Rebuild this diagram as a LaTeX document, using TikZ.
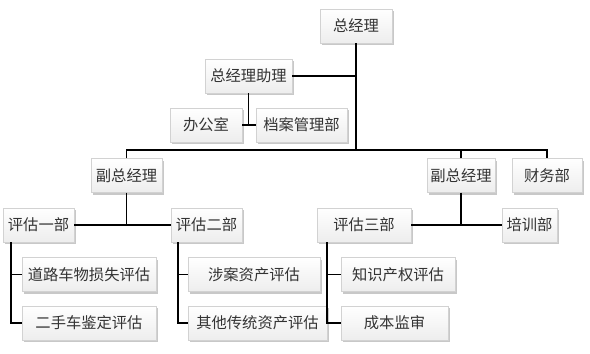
\documentclass[tikz,border=0pt]{standalone}
\usepackage{fontspec}
\setmainfont{Noto Sans CJK SC}
\usetikzlibrary{shadows}
\begin{document}
\begin{tikzpicture}[x=1pt,y=-1pt,
  box/.style={rectangle, draw=gray!35, line width=0.4pt, top color=white, bottom color=gray!14,
    drop shadow={shadow xshift=1.6pt, shadow yshift=-2pt, opacity=0.5, fill=gray!85},
    inner sep=0pt, minimum height=34pt, font=\fontsize{15.3}{18}\selectfont, text=black!80},
  conn/.style={line width=1.2pt, black}]
\useasboundingbox[fill=white] (0,0) rectangle (590,354);
% nodes
\node[box, minimum width=72pt] (gm) at (356,26) {总经理};
\node[box, minimum width=87pt] (asst) at (248.5,76) {总经理助理};
\node[box, minimum width=72pt] (office) at (206,125) {办公室};
\node[box, minimum width=91pt] (archive) at (301.5,125) {档案管理部};
\node[box, minimum width=71pt] (vp1) at (126.5,175.5) {副总经理};
\node[box, minimum width=68pt] (vp2) at (461,175.5) {副总经理};
\node[box, minimum width=70pt] (fin) at (547,175.5) {财务部};
\node[box, minimum width=71pt] (d1) at (38.5,225) {评估一部};
\node[box, minimum width=71pt] (d2) at (206.5,225) {评估二部};
\node[box, minimum width=94pt] (d3) at (364,225) {评估三部};
\node[box, minimum width=55pt] (train) at (529.5,225) {培训部};
\node[box, minimum width=134pt] (road) at (89,274.5) {道路车物损失评估};
\node[box, minimum width=134pt] (used) at (89,323) {二手车鉴定评估};
\node[box, minimum width=132pt] (case) at (254,274.5) {涉案资产评估};
\node[box, minimum width=139pt] (other) at (257.5,323) {其他传统资产评估};
\node[box, minimum width=114pt] (ip) at (398,274.5) {知识产权评估};
\node[box, minimum width=107pt] (cost) at (394.5,323) {成本监审};
% coordinates
\coordinate (bus) at (356,150);
\coordinate (d1x) at (11,0);
\coordinate (d2x) at (178,0);
\coordinate (d3x) at (327,0);
% connectors
\draw[conn] (gm.south) -- (bus);
\draw[conn] (asst.east) -- (gm.south |- asst.east);
\draw[conn] (vp1.north) |- (bus) -| (fin.north);
\draw[conn] (vp2.north) -- (vp2.north |- bus);
\draw[conn] (asst.south) -- (asst.south |- office.east);
\draw[conn] (office.east) -- (archive.west);
\draw[conn] (vp1.south) -- (vp1.south |- d1.east);
\draw[conn] (d1.east) -- (d2.west);
\draw[conn] (vp2.south) -- (vp2.south |- d3.east);
\draw[conn] (d3.east) -- (train.west);
\draw[conn] (d1x |- d1.south) |- (used.west);
\draw[conn] (d1x |- road.west) -- (road.west);
\draw[conn] (d2x |- d2.south) |- (other.west);
\draw[conn] (d2x |- case.west) -- (case.west);
\draw[conn] (d3x |- d3.south) |- (cost.west);
\draw[conn] (d3x |- ip.west) -- (ip.west);
\end{tikzpicture}
\end{document}
